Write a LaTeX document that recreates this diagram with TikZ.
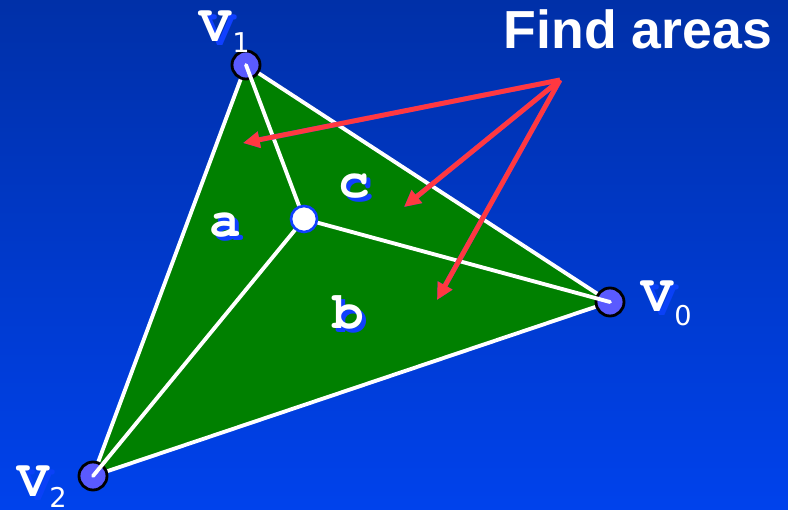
\documentclass[tikz,border=0pt]{standalone}
\usepackage{fontspec}
\newfontfamily\courfont{TeX Gyre Cursor}
\newfontfamily\headfont{Liberation Sans}
\newfontfamily\subfont{DejaVu Sans}
\usetikzlibrary{arrows.meta}
\definecolor{bgtop}{RGB}{0,48,168}
\definecolor{bgbot}{RGB}{0,66,236}
\definecolor{trigreen}{RGB}{0,128,0}
\definecolor{vertfill}{RGB}{90,90,255}
\definecolor{shadowblue}{RGB}{16,64,255}
\definecolor{arrowred}{RGB}{255,56,64}
\begin{document}
\begin{tikzpicture}[x=0.02cm,y=-0.02cm,
  vert/.style={circle,draw=black,fill=vertfill,line width=1.6pt,minimum size=0.56cm,inner sep=0pt},
  edge/.style={draw=white,line width=2.2pt,line cap=round,line join=round},
  vname/.style={font=\courfont\bfseries\fontsize{30}{30}\selectfont,inner sep=0pt},
  vsub/.style={font=\subfont\fontsize{15.5}{15.5}\selectfont,inner sep=0pt,white},
  area/.style={font=\courfont\bfseries\fontsize{30}{30}\selectfont,inner sep=0pt},
  pointer/.style={line width=2.8pt,-{Triangle[length=9.5pt,width=9pt]}}]
\shade[top color=bgtop,bottom color=bgbot] (0,0) rectangle (788,510);
\coordinate (p0) at (610,302);
\coordinate (p1) at (246,65);
\coordinate (p2) at (93,476);
\coordinate (q) at (304,219);
\filldraw[fill=trigreen,edge] (p0) -- (p1) -- (p2) -- cycle;
\node[vert] (v0) at (p0) {};
\node[vert] (v1) at (p1) {};
\node[vert] (v2) at (p2) {};
\draw[edge] (q) -- (v0.center);
\draw[edge] (q) -- (v1.center);
\draw[edge] (q) -- (v2.center);
\node[circle,fill=white,draw=shadowblue,line width=1.5pt,minimum size=0.52cm,inner sep=0pt] (pt) at (q) {};
\node[vname,text=shadowblue] at (220,30) {V};
\node[vname,text=white] (l1) at (215,26) {V};
\node[vsub] (s1) at (241,43) {1};
\node[vname,text=shadowblue!60!bgbot] at (662,300) {V};
\node[vname,text=white] (l0) at (657,296) {V};
\node[vsub] (s0) at (683,316) {0};
\node[vname,text=shadowblue!60!bgbot] at (38,485) {V};
\node[vname,text=white] (l2) at (33,481) {V};
\node[vsub] (s2) at (58,497) {2};
\node[area,text=shadowblue] at (229,229) {a};
\node[area,text=white] (la) at (225,225) {a};
\node[area,text=shadowblue] at (352,316) {b};
\node[area,text=white] (lb) at (348,312) {b};
\node[area,text=shadowblue] at (358,190) {c};
\node[area,text=white] (lc) at (354,186) {c};
\node[font=\headfont\bfseries\fontsize{30.5}{30.5}\selectfont,text=white,inner sep=0pt] (title) at (638,29) {Find areas};
\coordinate (src) at (560,80);
\coordinate (ta) at (243,143);
\coordinate (tb) at (437,300);
\coordinate (tc) at (404,207);
\begin{scope}[shift={(5,5)}]
\draw[pointer,shadowblue] (src) -- (ta);
\draw[pointer,shadowblue] (src) -- (tc);
\draw[pointer,shadowblue] (src) -- (tb);
\end{scope}
\draw[pointer,arrowred] (src) -- (ta);
\draw[pointer,arrowred] (src) -- (tc);
\draw[pointer,arrowred] (src) -- (tb);
\end{tikzpicture}
\end{document}
